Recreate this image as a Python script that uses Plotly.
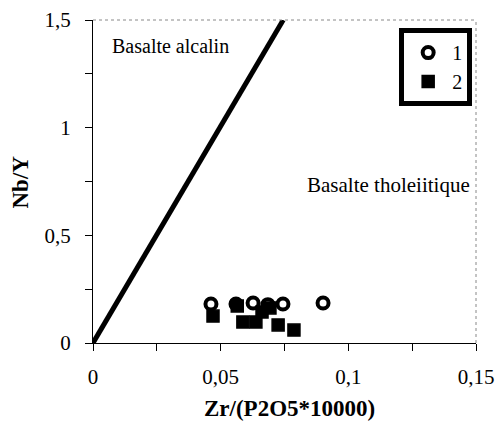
import plotly.graph_objects as go

# Data
s1_x = [0.0462, 0.0560, 0.0627, 0.0685, 0.0744, 0.0901]
s1_y = [0.181, 0.181, 0.186, 0.178, 0.181, 0.186]
s2_x = [0.0470, 0.0565, 0.0587, 0.0638, 0.0662, 0.0693, 0.0725, 0.0787]
s2_y = [0.125, 0.172, 0.0975, 0.0975, 0.144, 0.163, 0.084, 0.060]
line_x = [0.0, 0.0745]
line_y = [0.0, 1.5]
xticks = [0, 0.05, 0.1, 0.15]
xtick_text = ["0", "0,05", "0,1", "0,15"]
xminor = [0.025, 0.075, 0.125]
yticks = [0, 0.5, 1, 1.5]
ytick_text = ["0", "0,5", "1", "1,5"]
yminor = [0.25, 0.75, 1.25]

FONT = "Liberation Serif, Times New Roman, serif"

fig = go.Figure()
fig.add_trace(go.Scatter(x=line_x, y=line_y, mode="lines",
                         line=dict(color="black", width=5), showlegend=False,
                         cliponaxis=False))
fig.add_trace(go.Scatter(x=s1_x, y=s1_y, mode="markers", name="1",
                         marker=dict(symbol="circle", size=11, color="white",
                                     line=dict(color="black", width=4)),
                         cliponaxis=False))
fig.add_trace(go.Scatter(x=s2_x, y=s2_y, mode="markers", name="2",
                         marker=dict(symbol="square", size=12, color="black",
                                     line=dict(color="black", width=1.5)),
                         cliponaxis=False))

fig.update_layout(
    width=497, height=433,
    margin=dict(l=93, r=21, t=20, b=90, autoexpand=False),
    plot_bgcolor="white", paper_bgcolor="white",
    font=dict(family=FONT, size=21, color="black"),
    showlegend=True,
    legend=dict(x=0.99, y=0.975, xanchor="right", yanchor="top",
                bgcolor="white", bordercolor="black", borderwidth=5,
                font=dict(family=FONT, size=20), traceorder="normal",
                itemwidth=38, tracegroupgap=0),
    xaxis=dict(range=[0, 0.15], tickvals=xticks, ticktext=xtick_text,
               automargin=False,
               showgrid=False, zeroline=False, showline=True,
               linecolor="black", linewidth=1, ticks="outside", ticklen=7,
               tickcolor="black", ticklabelstandoff=8,
               minor=dict(tickvals=xminor, ticks="outside",
                          ticklen=7, tickcolor="black"),
               tickfont=dict(family=FONT, size=21)),
    yaxis=dict(range=[0, 1.5], tickvals=yticks, ticktext=ytick_text,
               automargin=False,
               showgrid=False, zeroline=False, showline=True,
               linecolor="black", linewidth=1, ticks="outside", ticklen=7,
               tickcolor="black", ticklabelstandoff=10,
               minor=dict(tickvals=yminor, ticks="outside",
                          ticklen=7, tickcolor="black"),
               tickfont=dict(family=FONT, size=21)),
)

# top and right frame lines (gray, dotted)
fig.add_shape(type="line", xref="paper", yref="paper", x0=0, x1=1, y0=1, y1=1,
              line=dict(color="#888888", width=1, dash="dot"))
fig.add_shape(type="line", xref="paper", yref="paper", x0=1, x1=1, y0=0, y1=1,
              line=dict(color="#888888", width=1, dash="dot"))

# axis titles
fig.add_annotation(x=0.514, y=0, xref="paper", yref="paper", yshift=-65,
                   text="<b>Zr/(P2O5*10000)</b>", showarrow=False,
                   xanchor="center", yanchor="middle",
                   font=dict(family=FONT, size=23))
fig.add_annotation(x=-0.188, y=0.5, xref="paper", yref="paper",
                   text="<b>Nb/Y</b>", showarrow=False, textangle=-90,
                   xanchor="center", yanchor="middle",
                   font=dict(family=FONT, size=23))

fig.add_annotation(x=0.0066, y=1.38, xref="x", yref="y", text="Basalte alcalin",
                   showarrow=False, xanchor="left", font=dict(family=FONT, size=20))
fig.add_annotation(x=0.083, y=0.735, xref="x", yref="y", text="Basalte tholeiitique",
                   showarrow=False, xanchor="left", font=dict(family=FONT, size=21))

fig.write_html("out.html")
